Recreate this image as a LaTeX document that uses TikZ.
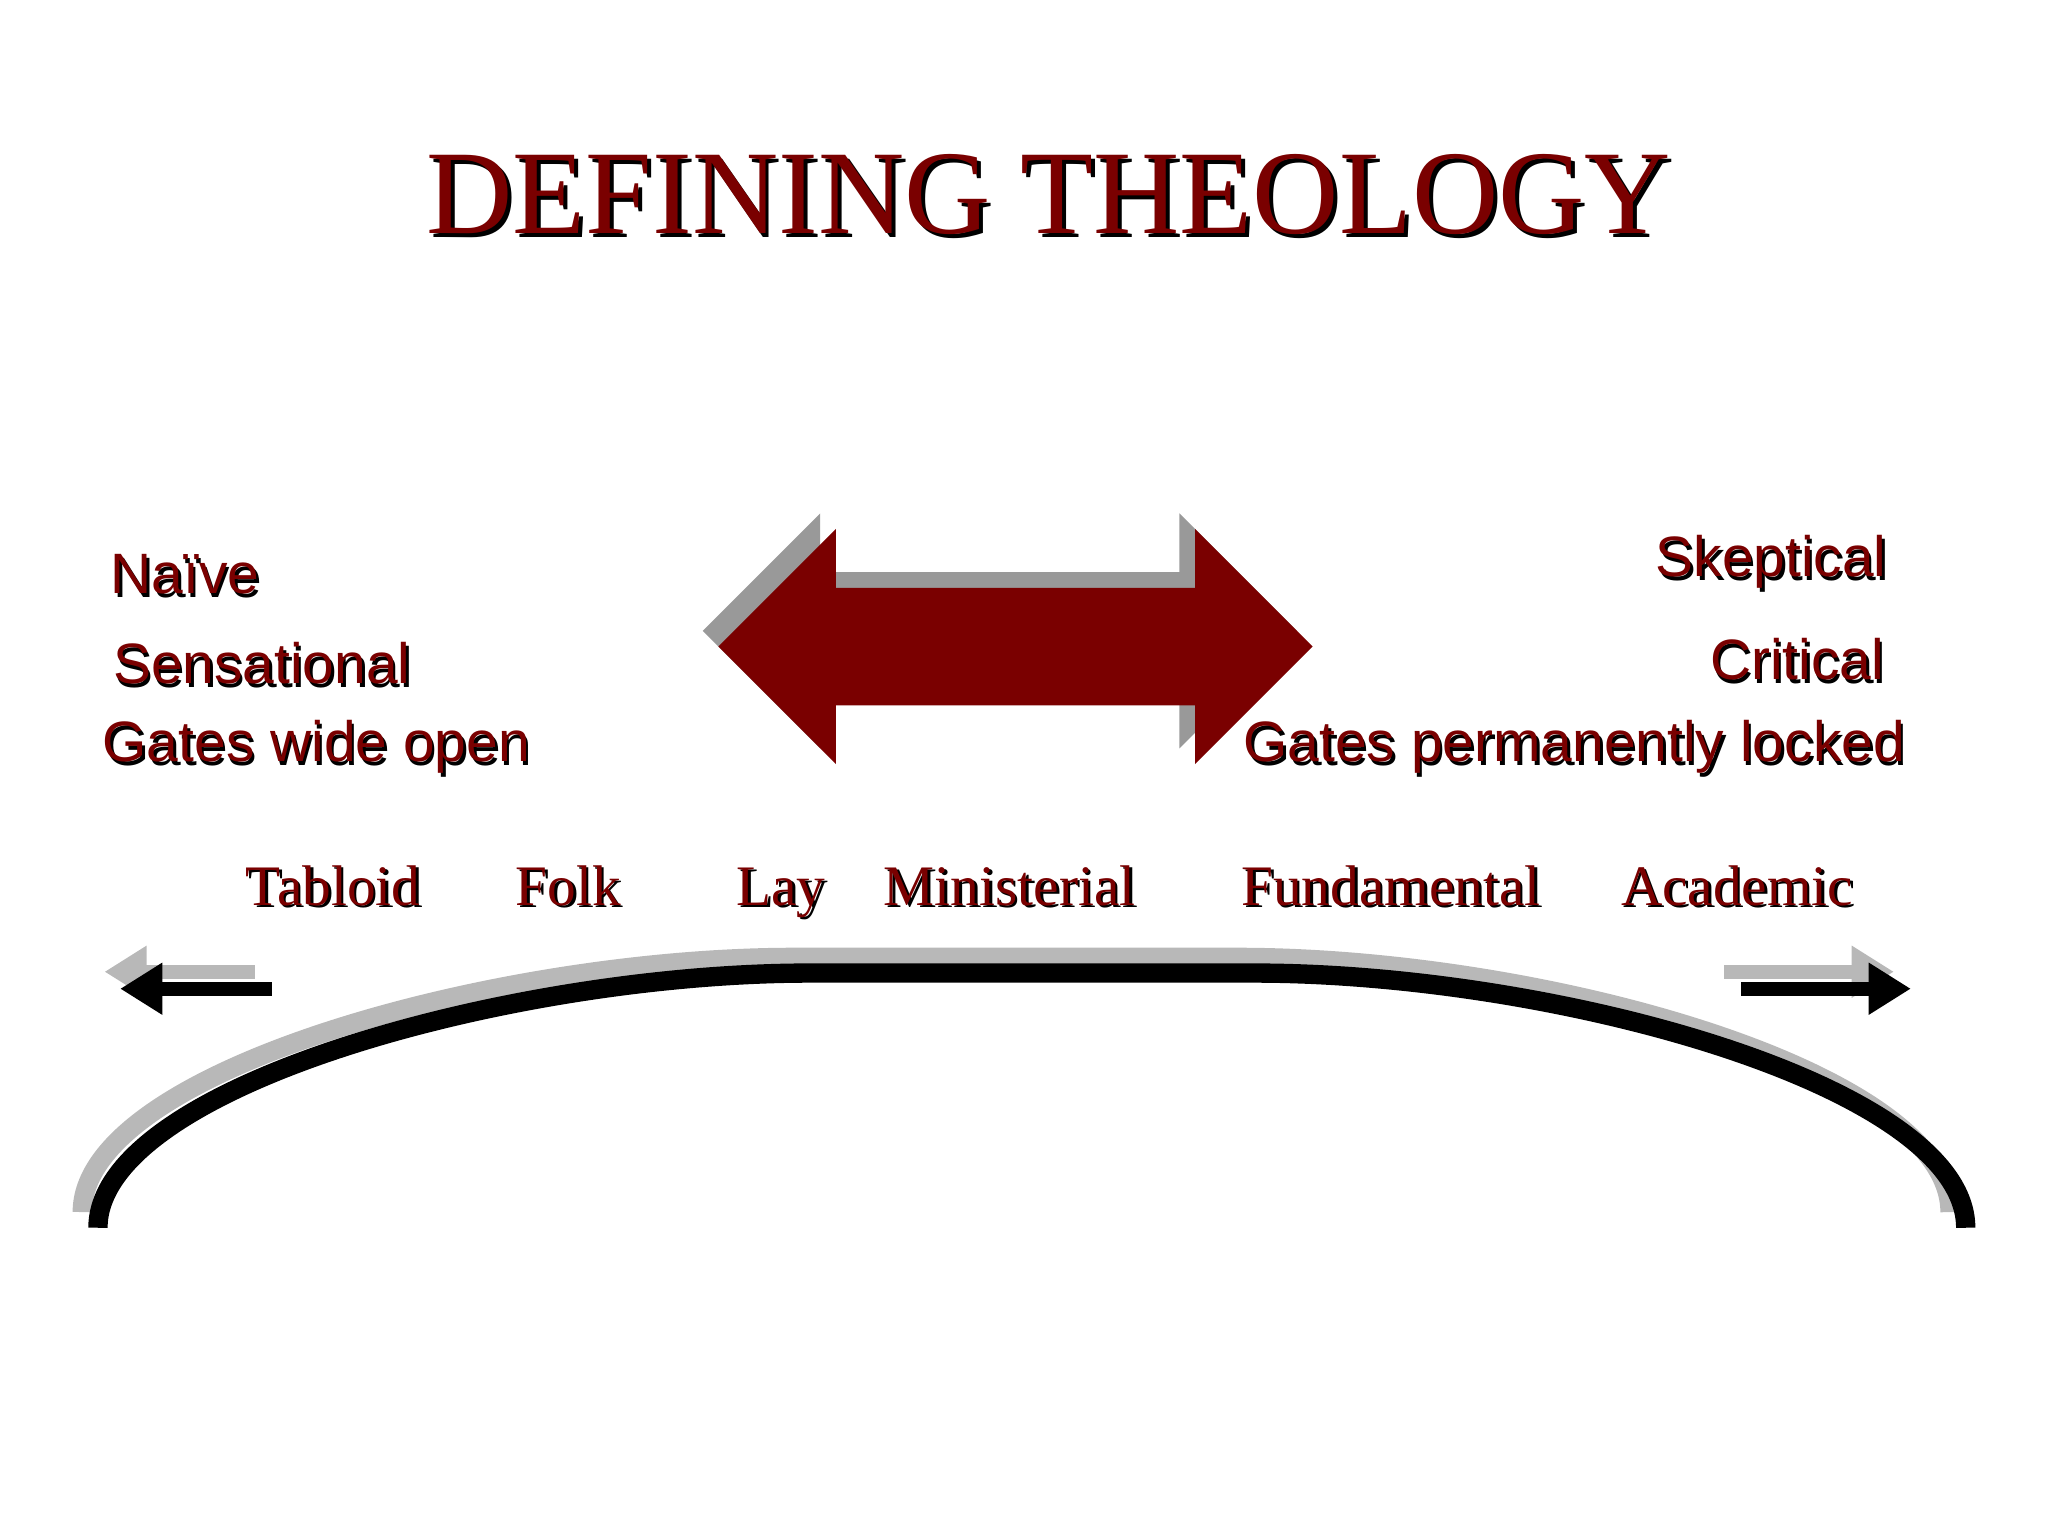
\documentclass[tikz,border=0pt]{standalone}
\usepackage{fontspec}
\setmainfont{Liberation Serif}
\setsansfont{Liberation Sans}
\usetikzlibrary{arrows.meta}
\definecolor{dred}{HTML}{7A0000}
\definecolor{shgray}{HTML}{B8B8B8}
\begin{document}
\begin{tikzpicture}[x=0.01306cm,y=-0.01306cm,
  side/.style={font=\sffamily\fontsize{16.2}{18}\selectfont,inner sep=0pt},
  lab/.style={font=\rmfamily\fontsize{16.3}{19}\selectfont,anchor=base},
  arcline/.style={line width=5.5pt},
  small/.style={line width=4pt,-{Triangle[length=12pt,width=14pt]}}]
\useasboundingbox (0,0) rectangle (1568,1176);
% title
\node[text=black,font=\rmfamily\fontsize{34}{40}\selectfont] at (806,152) {DEFINING THEOLOGY};
\node[text=dred,font=\rmfamily\fontsize{34}{40}\selectfont] (title) at (803,149) {DEFINING THEOLOGY};
% double arrow
\fill[gray!80] (538,483) -- (628,393) -- (628,438) -- (903,438) -- (903,393) -- (993,483) -- (903,573) -- (903,528) -- (628,528) -- (628,573) -- cycle;
\fill[dred] (550,495) -- (640,405) -- (640,450) -- (915,450) -- (915,405) -- (1005,495) -- (915,585) -- (915,540) -- (640,540) -- (640,585) -- cycle;
% side texts
\begin{scope}[side]
\node[anchor=west,text=black] at (86,443) {Naïve};
\node[anchor=west,text=dred] (n1) at (84,440) {Naïve};
\node[anchor=west,text=black] at (88,511) {Sensational};
\node[anchor=west,text=dred] (n2) at (86,508) {Sensational};
\node[anchor=west,text=black] at (80,575) {Gates wide open};
\node[anchor=west,text=dred] (n3) at (78,572) {Gates wide open};
\node[anchor=east,text=black] at (1447,433) {Skeptical};
\node[anchor=east,text=dred] (s1) at (1445,430) {Skeptical};
\node[anchor=east,text=black] at (1445,508) {Critical};
\node[anchor=east,text=dred] (s2) at (1443,505) {Critical};
\node[anchor=east,text=black] at (1461,575) {Gates permanently locked};
\node[anchor=east,text=dred] (s3) at (1459,572) {Gates permanently locked};
\end{scope}
% labels
\begin{scope}[lab]
\foreach \t/\x/\n in {Tabloid/255/l1,Folk/435/l2,Lay/598/l3,Ministerial/773/l4,Fundamental/1065/l5,Academic/1330/l6}{
  \node[lab,text=black] at (\x+2,695) {\t};
  \node[lab,text=dred] (\n) at (\x,693) {\t};}
\end{scope}
% arc
\coordinate (a1) at (63,928); \coordinate (a2) at (608,733); \coordinate (a3) at (948,733); \coordinate (a4) at (1493,928);
\draw[arcline,shgray] (a1) .. controls (63,820) and (380,733) .. (a2) -- (a3) .. controls (1180,733) and (1493,820) .. (a4);
\coordinate (b1) at (75,940); \coordinate (b2) at (620,745); \coordinate (b3) at (960,745); \coordinate (b4) at (1505,940);
\draw[arcline,black] (b1) .. controls (75,832) and (392,745) .. (b2) -- (b3) .. controls (1192,745) and (1505,832) .. (b4);
% small arrows
\coordinate (p1) at (195,744); \coordinate (p2) at (80,744);
\coordinate (q1) at (208,757); \coordinate (q2) at (92,757);
\draw[small,shgray] (p1) -- (p2);
\draw[small,black] (q1) -- (q2);
\coordinate (r1) at (1320,744); \coordinate (r2) at (1450,744);
\coordinate (t1) at (1333,757); \coordinate (t2) at (1463,757);
\draw[small,shgray] (r1) -- (r2);
\draw[small,black] (t1) -- (t2);
\end{tikzpicture}
\end{document}
